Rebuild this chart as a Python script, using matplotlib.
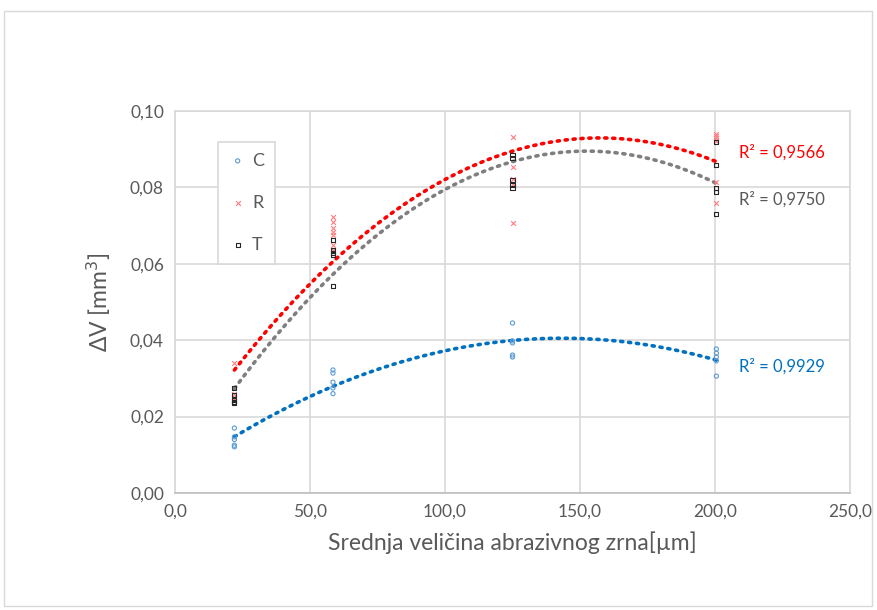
import numpy as np
import matplotlib
matplotlib.use("Agg")
import matplotlib.pyplot as plt
from matplotlib.ticker import FuncFormatter, MultipleLocator
import matplotlib.patches as mpatches

plt.rcParams['font.family'] = ['Lato', 'DejaVu Sans']

# ── Data ──
x_c = [22, 22, 22, 22, 22,
       58.5, 58.5, 58.5, 58.5, 58.5,
       125, 125, 125, 125, 125,
       200.5, 200.5, 200.5, 200.5, 200.5]
c_vals = [0.0170, 0.0147, 0.0140, 0.0125, 0.0121,
          0.0322, 0.0314, 0.0290, 0.0275, 0.0260,
          0.0445, 0.0398, 0.0393, 0.0361, 0.0356,
          0.0377, 0.0366, 0.0356, 0.0346, 0.0306]

x_r = [22, 22, 22, 22, 22,
       58.5, 58.5, 58.5, 58.5, 58.5, 58.5, 58.5,
       125, 125, 125, 125, 125,
       200.5, 200.5, 200.5, 200.5, 200.5, 200.5]
r_vals = [0.0340, 0.0260, 0.0252, 0.0246, 0.0240,
          0.0722, 0.0709, 0.0694, 0.0683, 0.0675, 0.0649, 0.0636,
          0.0932, 0.0853, 0.0822, 0.0808, 0.0707,
          0.0940, 0.0935, 0.0930, 0.0922, 0.0814, 0.0759]

x_t = [22, 22, 22, 22, 22,
       58.5, 58.5, 58.5, 58.5, 58.5,
       125, 125, 125, 125, 125,
       200.5, 200.5, 200.5, 200.5, 200.5]
t_vals = [0.0275, 0.0257, 0.0243, 0.0238, 0.0236,
          0.0662, 0.0636, 0.0628, 0.0623, 0.0542,
          0.0885, 0.0877, 0.0819, 0.0806, 0.0798,
          0.0919, 0.0859, 0.0798, 0.0788, 0.0730]

r2_labels = ["R² = 0,9929", "R² = 0,9566", "R² = 0,9750"]

# ── Colours ──
C_MK, R_MK, T_MK = '#5B9BD5', '#FF7C80', '#262626'
C_FIT, R_FIT, T_FIT = '#0070C0', '#FF0000', '#7F7F7F'
TXT = '#595959'

fig = plt.figure(figsize=(8.77, 6.10), dpi=100)
ax = fig.add_axes([175 / 877, 1 - 493 / 610, 675 / 877, 382 / 610])

# outer chart frame
fig.patches.append(mpatches.Rectangle((0.004, 0.006), 0.99, 0.976, transform=fig.transFigure,
                                      fill=False, edgecolor='#D9D9D9', lw=1.0))

series = [
    ('C', x_c, c_vals, 'o', C_MK, C_FIT),
    ('R', x_r, r_vals, 'x', R_MK, R_FIT),
    ('T', x_t, t_vals, 's', T_MK, T_FIT),
]

handles = []
for name, xs, ys, mk, mc, fc in series:
    if mk == 'x':
        h = ax.scatter(xs, ys, marker='x', s=12, color=mc, linewidths=0.8, zorder=4, label=name)
    else:
        h = ax.scatter(xs, ys, marker=mk, s=9, facecolors='none', edgecolors=mc,
                       linewidths=0.8, zorder=4, label=name)
    handles.append(h)
    # 2nd-order polynomial trendline
    coef = np.polyfit(xs, ys, 2)
    xf = np.linspace(min(xs), max(xs), 200)
    ax.plot(xf, np.polyval(coef, xf), color=fc, lw=2.6,
            linestyle=(0, (0.6, 1.6)), dash_capstyle='round', zorder=3)

# R² labels
ax.text(0.835, (493 - 152) / 382, r2_labels[1], transform=ax.transAxes,
        color=R_FIT, fontsize=12, va='center', ha='left')
ax.text(0.835, (493 - 199) / 382, r2_labels[2], transform=ax.transAxes,
        color='#595959', fontsize=12, va='center', ha='left')
ax.text(0.835, (493 - 366) / 382, r2_labels[0], transform=ax.transAxes,
        color=C_FIT, fontsize=12, va='center', ha='left')

ax.set_xlim(0, 250)
ax.set_ylim(0, 0.10)
ax.xaxis.set_major_locator(MultipleLocator(50))
ax.yaxis.set_major_locator(MultipleLocator(0.02))
ax.xaxis.set_major_formatter(FuncFormatter(lambda v, p: f"{v:.1f}".replace('.', ',')))
ax.yaxis.set_major_formatter(FuncFormatter(lambda v, p: f"{v:.2f}".replace('.', ',')))
ax.grid(True, color='#D9D9D9', lw=1.2)
ax.set_axisbelow(True)
for s in ['top', 'right', 'left']:
    ax.spines[s].set_color('#D9D9D9')
    ax.spines[s].set_linewidth(1.2)
ax.spines['bottom'].set_color('#BFBFBF')
ax.spines['bottom'].set_linewidth(1.2)
ax.tick_params(length=0, labelsize=12.5, colors=TXT, pad=8)

ax.set_xlabel("Srednja veličina abrazivnog zrna[µm]", fontsize=16.5, color=TXT, labelpad=8)
ax.set_ylabel("ΔV [mm$^3$]", fontsize=16.5, color=TXT, labelpad=12)

leg = ax.legend(handles=handles, loc='upper left', bbox_to_anchor=(0.05, 0.943),
                fontsize=13, labelspacing=1.45, handletextpad=0.3, handlelength=1.0,
                borderpad=0.6, fancybox=False, edgecolor='#D9D9D9', framealpha=1)
for t in leg.get_texts():
    t.set_color(TXT)
leg.get_frame().set_linewidth(1.2)

fig.savefig('out.png', dpi=100)
